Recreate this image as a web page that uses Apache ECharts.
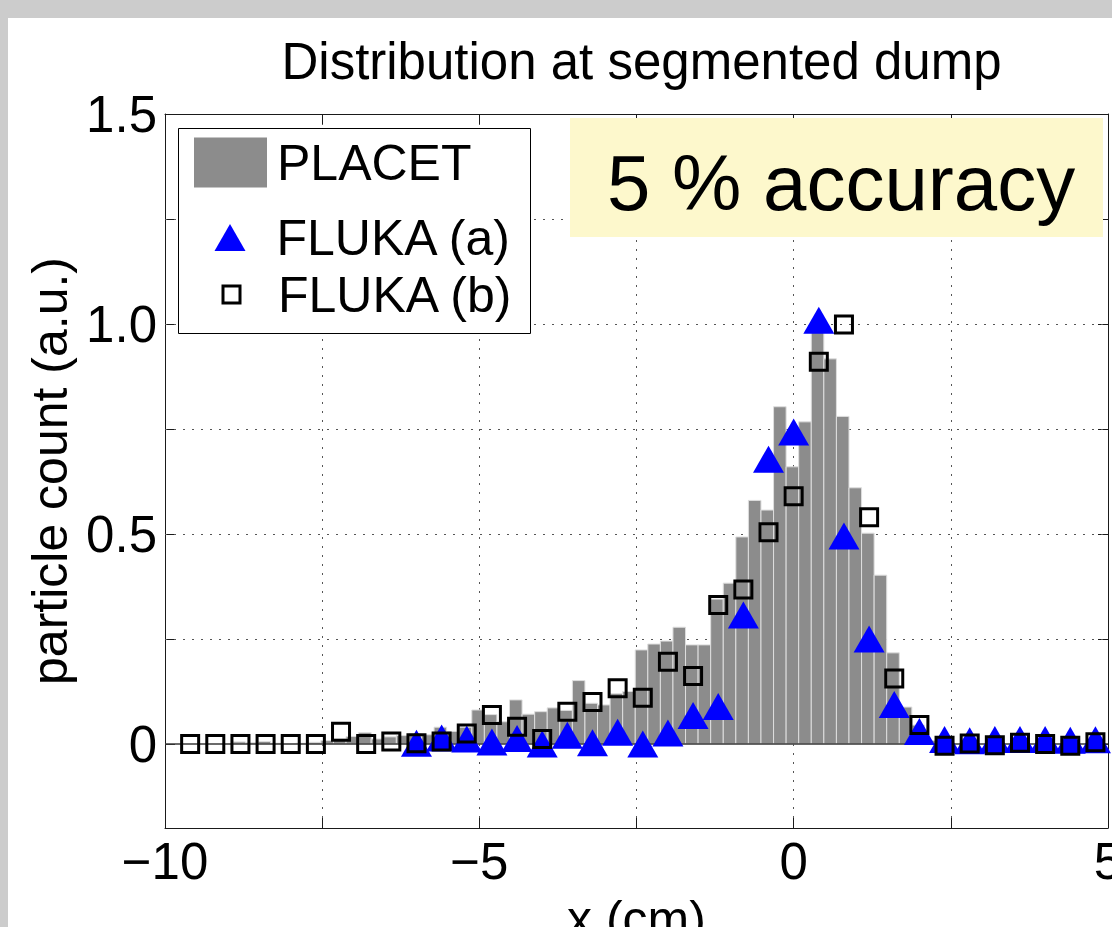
<!DOCTYPE html>
<html>
<head>
<meta charset="utf-8">
<script src="https://cdn.jsdelivr.net/npm/echarts@6.0.0/dist/echarts.min.js"></script>
<style>
  html, body { margin: 0; padding: 0; background: #cccccc; width: 1112px; height: 927px; overflow: hidden; }
  #chart { position: absolute; left: 8px; top: 18px; width: 1104px; height: 909px; background: #ffffff; }
</style>
</head>
<body>
<div id="chart"></div>
<script>
// ---------------- data ----------------
const titleText = 'Distribution at segmented dump';
const xName = 'x (cm)';
const yName = 'particle count (a.u.)';
const seriesNames = ['PLACET', 'FLUKA (a)', 'FLUKA (b)'];
const noteText = '5 % accuracy';

const xTickValues = [-10, -7.5, -5, -2.5, 0, 2.5, 5];
const xLabelValues = [-10, -5, 0, 5];
const yTickValues = [0, 0.25, 0.5, 0.75, 1.0, 1.25, 1.5];
const yLabelValues = [0, 0.5, 1.0, 1.5];
const yGridValues = [0.25, 0.5, 0.75, 1.0, 1.25];

// PLACET histogram: bin centres (cm), bin width 0.2 cm, heights
const placetBinWidth = 0.2;
const placetX = [-9.02, -8.82, -8.62, -8.42, -8.22, -8.02, -7.82, -7.62, -7.42, -7.22,
                 -7.02, -6.82, -6.62, -6.42, -6.22, -6.02, -5.82, -5.62, -5.42, -5.22,
                 -5.02, -4.82, -4.62, -4.42, -4.22, -4.02, -3.82, -3.62, -3.42, -3.22,
                 -3.02, -2.82, -2.62, -2.42, -2.22, -2.02, -1.82, -1.62, -1.42, -1.22,
                 -1.02, -0.82, -0.62, -0.42, -0.22, -0.02, 0.18, 0.38, 0.58, 0.78,
                 0.98, 1.18, 1.38, 1.58, 1.78, 1.98, 2.18];
const placetY = [0.000, 0.005, 0.003, 0.006, 0.002, 0.000, 0.002, 0.004, 0.008, 0.012,
                 0.018, 0.027, 0.012, 0.017, 0.020, 0.024, 0.022, 0.040, 0.030, 0.040,
                 0.081, 0.070, 0.053, 0.105, 0.071, 0.077, 0.086, 0.080, 0.151, 0.097,
                 0.093, 0.120, 0.125, 0.224, 0.238, 0.245, 0.278, 0.236, 0.236, 0.345,
                 0.383, 0.493, 0.580, 0.557, 0.803, 0.660, 0.767, 0.982, 0.917, 0.780,
                 0.610, 0.502, 0.402, 0.217, 0.088, 0.045, 0.008];

// FLUKA (a): blue triangles
const flukaAX = [-6.0, -5.6, -5.2, -4.8, -4.4, -4.0, -3.6, -3.2, -2.8, -2.4,
                 -2.0, -1.6, -1.2, -0.8, -0.4, 0.0, 0.4, 0.8, 1.2, 1.6,
                 2.0, 2.4, 2.8, 3.2, 3.6, 4.0, 4.4, 4.8];
const flukaAY = [0.002, 0.014, 0.012, 0.005, 0.013, 0.000, 0.021, 0.003, 0.028, 0.000,
                 0.026, 0.068, 0.089, 0.307, 0.678, 0.743, 1.009, 0.495, 0.250, 0.094,
                 0.030, 0.011, 0.008, 0.011, 0.011, 0.011, 0.009, 0.010];

// FLUKA (b): open squares
const flukaBX = [-9.6, -9.2, -8.8, -8.4, -8.0, -7.6, -7.2, -6.8, -6.4, -6.0,
                 -5.6, -5.2, -4.8, -4.4, -4.0, -3.6, -3.2, -2.8, -2.4, -2.0,
                 -1.6, -1.2, -0.8, -0.4, 0.0, 0.4, 0.8, 1.2, 1.6, 2.0,
                 2.4, 2.8, 3.2, 3.6, 4.0, 4.4, 4.8];
const flukaBY = [0.000, 0.000, 0.000, 0.000, 0.000, 0.000, 0.029, 0.000, 0.006, 0.002,
                 0.006, 0.025, 0.069, 0.041, 0.012, 0.077, 0.100, 0.133, 0.110, 0.196,
                 0.162, 0.331, 0.368, 0.504, 0.590, 0.910, 0.999, 0.540, 0.156, 0.045,
                 -0.004, 0.001, -0.003, 0.003, 0.000, -0.004, 0.004];

// ---------------- chart ----------------
const FONT = '"Liberation Sans", Arial, Helvetica, sans-serif';
const chart = echarts.init(document.getElementById('chart'), null, { renderer: 'svg' });

const pair = (xs, ys) => xs.map((x, i) => [x, ys[i]]);
const fmtX = v => {
  if (xLabelValues.indexOf(v) < 0) return '';
  return v < 0 ? '\u2212' + Math.abs(v) : String(v);
};
const fmtY = v => (v === 0 ? '0' : v.toFixed(1));
const axisColor = '#1a1a1a';
const dotted = { type: [2, 7], color: '#555555', width: 1 };
const legendText = { fontSize: 50, color: '#000', fontFamily: FONT };

const option = {
  animation: false,
  backgroundColor: '#ffffff',
  title: {
    text: titleText,
    left: 628.5,
    top: 13,
    textAlign: 'center',
    textStyle: { fontSize: 51, fontWeight: 'normal', color: '#000', fontFamily: FONT }
  },
  grid: { left: 157, top: 96, right: 4, bottom: 99, containLabel: false, outerBoundsMode: 'none' },
  xAxis: [
    {
      type: 'value', min: xTickValues[0], max: xTickValues[xTickValues.length - 1], interval: 2.5,
      position: 'bottom',
      axisLine: { show: true, onZero: false, lineStyle: { color: axisColor, width: 1 } },
      axisTick: { show: true, inside: true, length: 10, lineStyle: { color: axisColor } },
      axisLabel: { formatter: fmtX, fontSize: 51, color: '#000', margin: 8, fontFamily: FONT,
                   showMaxLabel: true, showMinLabel: true, hideOverlap: false },
      splitLine: { show: true, lineStyle: dotted },
      name: xName, nameLocation: 'middle', nameGap: 66,
      nameTextStyle: { fontSize: 50, color: '#000', fontFamily: FONT, verticalAlign: 'top' }
    },
    {
      type: 'value', min: xTickValues[0], max: xTickValues[xTickValues.length - 1], interval: 2.5,
      position: 'top',
      axisLine: { show: true, onZero: false, lineStyle: { color: axisColor, width: 1 } },
      axisTick: { show: true, inside: true, length: 10, lineStyle: { color: axisColor } },
      axisLabel: { show: false },
      splitLine: { show: false }
    }
  ],
  yAxis: [
    {
      type: 'value', min: -0.2, max: 1.5, position: 'left',
      axisLine: { show: true, onZero: false, lineStyle: { color: axisColor, width: 1 } },
      axisTick: { show: true, inside: true, length: 10, customValues: yTickValues, lineStyle: { color: axisColor } },
      axisLabel: { customValues: yLabelValues, formatter: fmtY, fontSize: 51, color: '#000', margin: 8, fontFamily: FONT },
      splitLine: { show: false },
      name: yName, nameLocation: 'middle', nameGap: 86,
      nameTextStyle: { fontSize: 50, color: '#000', fontFamily: FONT }
    },
    {
      type: 'value', min: -0.2, max: 1.5, position: 'right',
      axisLine: { show: true, onZero: false, lineStyle: { color: axisColor, width: 1 } },
      axisTick: { show: true, inside: true, length: 10, customValues: yTickValues, lineStyle: { color: axisColor } },
      axisLabel: { show: false },
      splitLine: { show: false }
    }
  ],
  legend: [
    {
      data: [{ name: seriesNames[0], icon: 'rect', itemStyle: { color: '#8c8c8c', borderWidth: 0, opacity: 1 } }],
      left: 186, top: 119.5, orient: 'vertical', padding: 0, itemWidth: 73, itemHeight: 50,
      selectedMode: false, z: 8,
      textStyle: Object.assign({ padding: [0, 0, 0, 5] }, legendText)
    },
    {
      data: [{ name: seriesNames[1], icon: 'triangle', itemStyle: { color: '#0000ff', borderWidth: 0, opacity: 1 } }],
      left: 206.5, top: 194.5, orient: 'vertical', padding: 0, itemWidth: 31, itemHeight: 27,
      selectedMode: false, z: 8,
      textStyle: Object.assign({ padding: [0, 0, 0, 26] }, legendText)
    },
    {
      data: [{ name: seriesNames[2], icon: 'rect', itemStyle: { color: 'rgba(0,0,0,0)', borderColor: '#000', borderWidth: 3, opacity: 1 } }],
      left: 213.5, top: 251.5, orient: 'vertical', padding: 0, itemWidth: 17, itemHeight: 17,
      selectedMode: false, z: 8,
      textStyle: Object.assign({ padding: [0, 0, 0, 33] }, legendText)
    }
  ],
  graphic: {
    elements: [
      { type: 'rect', left: 170, top: 110, z: 6, silent: true,
        shape: { width: 352, height: 205 }, style: { fill: '#ffffff', stroke: '#000000', lineWidth: 1 } },
      { type: 'rect', left: 562, top: 100, z: 6, silent: true,
        shape: { width: 533, height: 119 }, style: { fill: '#fdf8cc' } },
      { type: 'text', x: 599, y: 165, z: 7, silent: true,
        style: { text: noteText, fontSize: 78, fontFamily: FONT, fill: '#000', align: 'left', verticalAlign: 'middle' } }
    ]
  },
  series: [
    {
      name: 'grid', type: 'line', data: [], silent: true, z: 1,
      markLine: {
        silent: true, z: 1, symbol: ['none', 'none'], label: { show: false },
        lineStyle: dotted, emphasis: { disabled: true },
        data: yGridValues.map(v => ({ yAxis: v }))
      }
    },
    {
      name: seriesNames[0], type: 'custom', z: 2, silent: true,
      itemStyle: { color: '#8c8c8c' },
      data: pair(placetX, placetY),
      encode: { x: 0, y: 1 },
      renderItem: function (params, api) {
        const c = api.value(0), h = api.value(1);
        const p0 = api.coord([c - placetBinWidth / 2, h]);
        const p1 = api.coord([c + placetBinWidth / 2, 0]);
        return {
          type: 'rect',
          shape: { x: p0[0], y: p0[1], width: p1[0] - p0[0], height: p1[1] - p0[1] },
          style: { fill: '#8c8c8c', stroke: '#dedede', lineWidth: 1 }
        };
      },
      markLine: {
        silent: true, z: 3, symbol: ['none', 'none'], label: { show: false },
        lineStyle: { type: 'solid', color: '#3a3a3a', width: 1.5 }, emphasis: { disabled: true },
        data: [{ yAxis: 0 }]
      }
    },
    {
      name: seriesNames[1], type: 'scatter', z: 4, silent: true,
      symbol: 'triangle', symbolSize: [31, 27],
      itemStyle: { color: '#0000ff', opacity: 1 },
      data: pair(flukaAX, flukaAY)
    },
    {
      name: seriesNames[2], type: 'scatter', z: 5, silent: true,
      symbol: 'rect', symbolSize: 17,
      itemStyle: { color: 'rgba(0,0,0,0)', borderColor: '#000000', borderWidth: 3, opacity: 1 },
      data: pair(flukaBX, flukaBY)
    }
  ]
};
chart.setOption(option);
</script>
</body>
</html>
